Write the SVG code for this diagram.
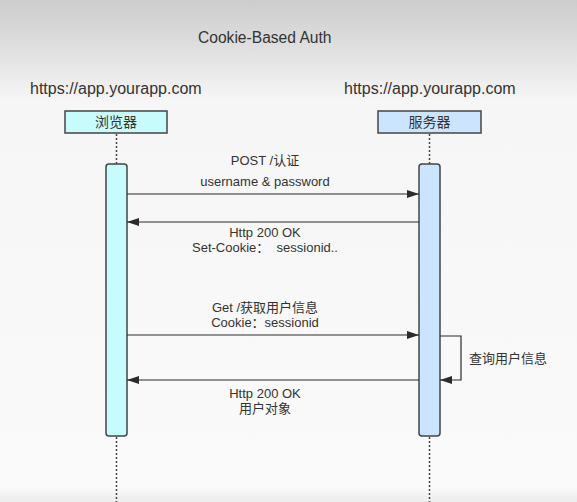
<svg xmlns="http://www.w3.org/2000/svg" width="577" height="502" viewBox="0 0 577 502">
<defs>
<linearGradient id="bg" x1="0" y1="0" x2="0" y2="1">
<stop offset="0" stop-color="#cdcdcd"/>
<stop offset="0.08" stop-color="#dcdcdc"/>
<stop offset="0.2" stop-color="#f6f6f6"/>
<stop offset="0.97" stop-color="#fafafa"/>
<stop offset="1" stop-color="#ececec"/>
</linearGradient>
<marker id="ah" viewBox="0 0 12 8" refX="12" refY="4" markerWidth="12" markerHeight="8" markerUnits="userSpaceOnUse" orient="auto">
<path d="M0,0 L12,4 L0,8 Z" fill="#2b2b2b"/>
</marker>
<style>
text{font-family:"Liberation Sans","Noto Sans CJK SC",sans-serif;fill:#333}
.t{font-size:15.6px}
.u{font-size:16px}
.m{font-size:13px;text-anchor:middle}
.b{font-size:14px;text-anchor:middle}
.life{stroke:#444;stroke-width:1.5;stroke-dasharray:2 2;fill:none}
.msg{stroke:#2b2b2b;stroke-width:1.2;fill:none;marker-end:url(#ah)}
.box{stroke:#444;stroke-width:1.5}
</style>
</defs>
<rect x="0" y="0" width="577" height="502" fill="url(#bg)"/>
<text class="t" x="198" y="43">Cookie-Based Auth</text>
<text class="u" x="30" y="94">https://app.yourapp.com</text>
<text class="u" x="344" y="94">https://app.yourapp.com</text>
<g id="lifelines">
<line class="life" x1="116.5" y1="134" x2="116.5" y2="164"/>
<line class="life" x1="116.5" y1="437" x2="116.5" y2="502"/>
<line class="life" x1="429.5" y1="134" x2="429.5" y2="164"/>
<line class="life" x1="429.5" y1="437" x2="429.5" y2="502"/>
</g>
<g id="browser">
<rect class="box" x="65" y="111" width="102" height="22" fill="#c8fcfc"/>
<text class="b" x="116" y="127">浏览器</text>
<rect class="box" x="106" y="164" width="21" height="272" rx="3" fill="#c8fcfc"/>
</g>
<g id="server">
<rect class="box" x="378" y="111" width="103" height="22" fill="#cce5ff"/>
<text class="b" x="429.5" y="127">服务器</text>
<rect class="box" x="419" y="164" width="21" height="272" rx="3" fill="#cce5ff"/>
</g>
<g id="connectors">
<line class="msg" x1="127" y1="194" x2="419" y2="194"/>
<line class="msg" x1="419" y1="222" x2="127" y2="222"/>
<line class="msg" x1="127" y1="335" x2="419" y2="335"/>
<polyline class="msg" points="440,336 461,336 461,380 440,380"/>
<line class="msg" x1="419" y1="380" x2="127" y2="380"/>
</g>
<g id="labels">
<text class="m" x="265" y="165">POST /认证</text>
<text class="m" x="265" y="186">username &amp; password</text>
<text class="m" x="265" y="237">Http 200 OK</text>
<text class="m" x="265" y="252" xml:space="preserve">Set-Cookie：  sessionid..</text>
<text class="m" x="265" y="312">Get /获取用户信息</text>
<text class="m" x="265" y="327">Cookie：sessionid</text>
<text class="m" x="265" y="398">Http 200 OK</text>
<text class="m" x="265" y="413">用户对象</text>
<text style="font-size:13px" x="469" y="363">查询用户信息</text>
</g>
</svg>
